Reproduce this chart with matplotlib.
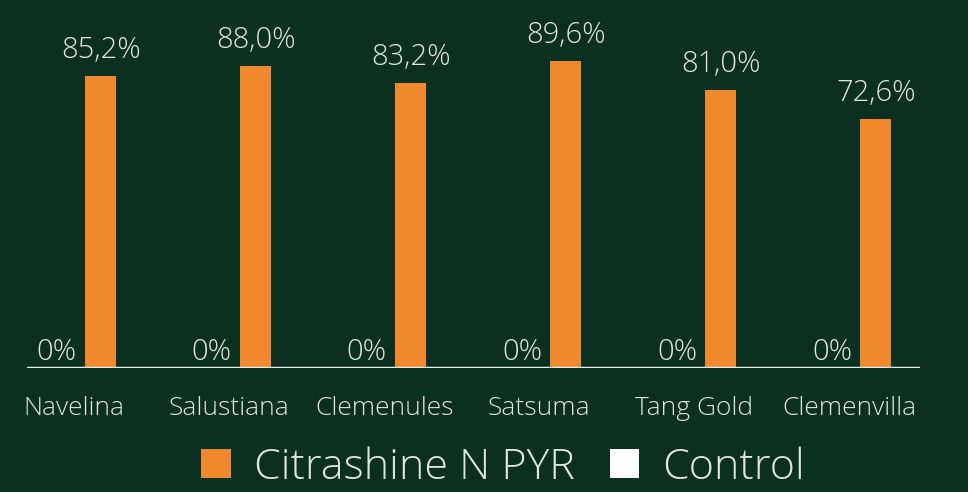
import numpy as np
import matplotlib.pyplot as plt
from matplotlib.patches import Patch

# data
varieties = ["Navelina", "Salustiana", "Clemenules", "Satsuma", "Tang Gold", "Clemenvilla"]
citrashine = [85.2, 88.0, 83.2, 89.6, 81.0, 72.6]
control = [0, 0, 0, 0, 0, 0]
series_names = ["Citrashine N PYR", "Control"]

bg = "#0b3020"
orange = "#f0892e"
txt = "#dde6e1"
plt.rcParams['font.family'] = ['Open Sans', 'DejaVu Sans']

fig = plt.figure(figsize=(9.68, 4.92), dpi=100, facecolor=bg)
ax = fig.add_axes([27/968, 1-368/492, (920-27)/968, 343/492])
ax.set_facecolor(bg)

x = np.arange(len(varieties))
w = 0.2
off = 0.142
ax.bar(x - off, control, w, color="white")
ax.bar(x + off, citrashine, w, color=orange)

def fmt(v):
    if v == 0:
        return "0%"
    return f"{v:.1f}%".replace(".", ",")

for xi, v in zip(x, control):
    ax.annotate(fmt(v), (xi - off, v), xytext=(0, 1), textcoords="offset points",
                ha="center", va="bottom", color=txt, fontsize=21, fontweight="light")
for xi, v in zip(x, citrashine):
    ax.annotate(fmt(v), (xi + off, v), xytext=(0, 8), textcoords="offset points",
                ha="center", va="bottom", color=txt, fontsize=21, fontweight="light")

ax.axhline(0, color="#e8eeea", linewidth=2.5)
ax.set_xlim(-0.335, 5.426)
ax.set_ylim(0, 100)
ax.set_xticks(x - 0.03)
ax.set_xticklabels(varieties, color=txt, fontsize=19, fontweight="light")
ax.tick_params(axis="x", length=0, pad=20)
ax.set_yticks([])
for s in ax.spines.values():
    s.set_visible(False)

handles = [Patch(facecolor=orange), Patch(facecolor="white")]
fig.legend(handles, series_names, loc="lower center", bbox_to_anchor=(0.52, -0.072),
           ncol=2, frameon=False, labelcolor=txt,
           handlelength=0.68, handleheight=0.68, handletextpad=0.55, columnspacing=0.8,
           prop={'weight': 'light', 'size': 31})

fig.savefig("out.png", dpi=100, facecolor=bg)
